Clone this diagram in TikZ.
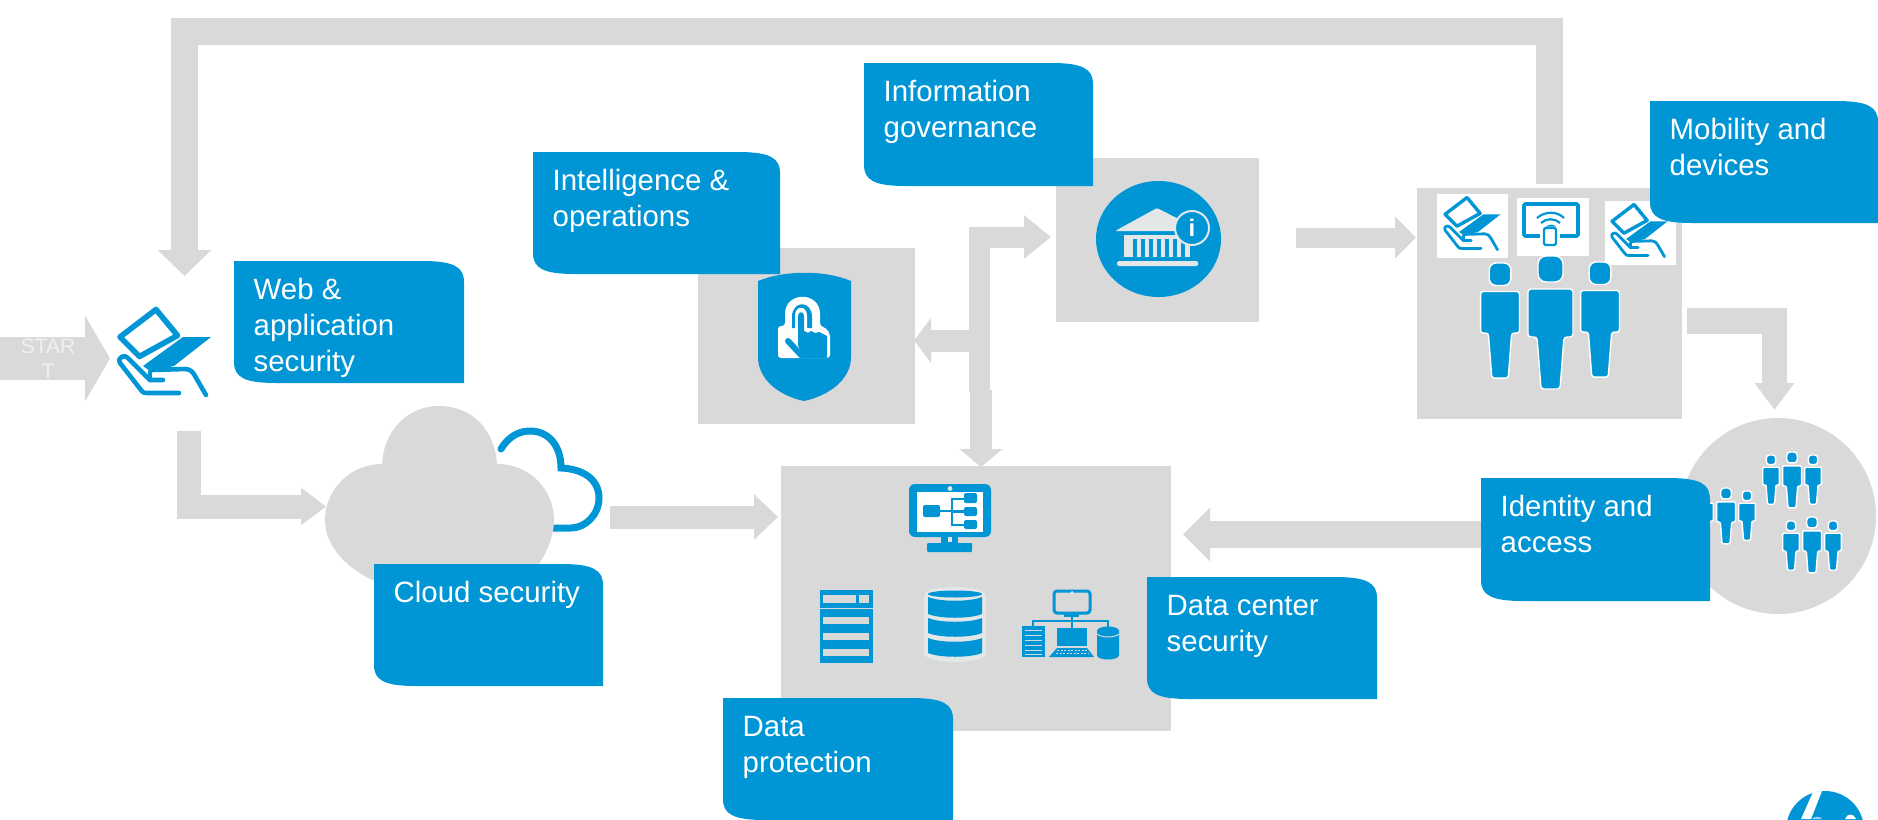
\documentclass[tikz,border=0pt]{standalone}
\usepackage{fontspec}
\setmainfont{Liberation Sans}
\usetikzlibrary{arrows.meta}
\definecolor{hpblue}{HTML}{0096D6}
\definecolor{hpgrey}{HTML}{D9D9D9}
\definecolor{hppale}{HTML}{E4E7E8}
\tikzset{
  greybox/.style={fill=hpgrey,inner sep=0pt,outer sep=0pt,anchor=north west},
  fat/.style={draw=hpgrey,line cap=butt,miter limit=10},
  boxtext/.style={text=white,inner sep=0pt,anchor=north west,align=left,font=\fontsize{29.4}{36}\selectfont},
  iconline/.style={draw=hpblue,line join=round,line cap=round},
}
\newcommand\bluebox[6]{%
  \fill[hpblue] (#2,#3) -- (#2+#4-42,#3) .. controls (#2+#4-10,#3) and (#2+#4,#3+6) .. (#2+#4,#3+21)
    -- (#2+#4,#3+#5) -- (#2+42,#3+#5) .. controls (#2+10,#3+#5) and (#2,#3+#5-6) .. (#2,#3+#5-21) -- cycle;
  \node[boxtext] (#1) at (#2+19.5,#3+13.5) {\rule{0pt}{25pt}#6};
}
% tablet-in-hand icon: drawn at full size from (115,307), placed at #1,#2 with scale #3
\newcommand\tablethand[3]{%
  \begin{scope}[shift={(#1,#2)},scale=#3,shift={(-115,-307)}]
    \draw[iconline,line width={5.6pt*#3}] (156,309.5) -- (120,337) -- (139.5,356.5) -- (177.5,335.5) -- cycle;
    \fill[hpblue] (183,337) -- (211,337) -- (174,366) -- (150,371) -- (143,366) -- cycle;
    \draw[iconline,line width={4.6pt*#3}] (163,380) -- (150,380) -- (128,358) .. controls (125,354) and (117,357) .. (120,363) -- (141,390) .. controls (143,393) and (145,393) .. (147,393) -- (179,393);
    \draw[iconline,line width={4.6pt*#3}] (150,372) -- (150,380);
    \draw[iconline,line width={4.6pt*#3}] (152,370) -- (185,369) .. controls (190,369) and (193,372) .. (195,376) -- (206,395);
  \end{scope}
}
% person: centre x #1, top y #2, scale #3
\newcommand\person[3]{%
  \begin{scope}[shift={(#1,#2)},scale=#3]
    \filldraw[fill=hpblue,draw=white,line width=1.4pt,rounded corners={8pt*#3}] (-12.5,0) rectangle (12.5,26);
    \filldraw[fill=hpblue,draw=white,line width=1.4pt,rounded corners={3pt*#3}]
      (-22.5,33) -- (22.5,33) -- (22.5,81) -- (13.5,81) -- (9.5,133) -- (-9.5,133) -- (-13.5,81) -- (-22.5,81) -- cycle;
  \end{scope}
}
\newcommand\dbseg[2]{\fill[hpblue] (928,#1) .. controls (940,#1+5) and (970,#1+5) .. (982,#1) -- (982,#2) .. controls (970,#2+5) and (940,#2+5) .. (928,#2) -- cycle;}
\begin{document}
\begin{tikzpicture}[x=1pt,y=-1pt]
\useasboundingbox (0,0) rectangle (1878,819);
% grey shapes
\node[greybox,minimum width=217pt,minimum height=176pt] (intelbox) at (698,248) {};
\node[greybox,minimum width=203pt,minimum height=164pt] (infobox) at (1056,158) {};
\node[greybox,minimum width=390pt,minimum height=265pt] (databox) at (781,466) {};
\node[greybox,minimum width=265pt,minimum height=231pt] (mobbox) at (1417,188) {};
\node[circle,fill=hpgrey,inner sep=0pt,minimum size=196pt] (idcircle) at (1778,516) {};
% connector end points
\coordinate (loopA) at (1549.5,184);
\coordinate (loopB) at (1549.5,31.5);
\coordinate (loopC) at (184.5,31.5);
\coordinate (webIn) at (184.5,276);
\coordinate (startA) at (0,358.5);
\coordinate (startB) at (110,358.5);
\coordinate (webOut) at (188.5,431);
\coordinate (webBend) at (188.5,506.5);
\coordinate (cloudIn) at (326,506.5);
\coordinate (cloudOut) at (610,517);
\coordinate (dataIn) at (778,517);
\coordinate (stemLow) at (981,390);
\coordinate (dataTop) at (981,467);
\coordinate (stemBase) at (979.5,392);
\coordinate (stemBend) at (979.5,237);
\coordinate (infoIn) at (1051,237);
\coordinate (stemSplit) at (979.5,340.5);
\coordinate (intelIn) at (914,340.5);
\coordinate (infoOut) at (1296,237.5);
\coordinate (mobIn) at (1416,237.5);
\coordinate (mobOut) at (1687,321);
\coordinate (mobBend) at (1774.5,321);
\coordinate (idIn) at (1774.5,410);
\coordinate (idOut) at (1481,534.5);
\coordinate (dataRight) at (1183,534.5);
% cloud
\draw[hpblue,line width=7pt,line cap=round,line join=miter]
  (501,449) .. controls (510,434) and (522,431) .. (530,431) .. controls (548,431) and (561,445) .. (561,468)
  .. controls (584,469) and (599,480) .. (599,498) .. controls (599,515) and (585,528) .. (571,528) -- (553,528);
\fill[hpgrey] (382,464) .. controls (384,430) and (408,406) .. (439,406) .. controls (472,406) and (495,430) .. (497,464)
  .. controls (530,464) and (554,490) .. (554,520) .. controls (554,540) and (543,560) .. (533,572)
  -- (372,580) .. controls (352,570) and (325,550) .. (325,520) .. controls (325,490) and (350,464) .. (382,464) -- cycle;
% connectors
\draw[fat,line width=26.5pt,-{Triangle[length=26pt,width=52pt]}] (loopA) -- (loopB) -- (loopC) -- (webIn);
\draw[fat,line width=43pt,-{Triangle[length=25pt,width=85pt]}] (startA) -- (startB);
\draw[fat,line width=24pt,-{Triangle[length=25pt,width=36pt]}] (webOut) -- (webBend) -- (cloudIn);
\draw[fat,line width=23pt,-{Triangle[length=24pt,width=44pt]}] (cloudOut) -- (dataIn);
\draw[fat,line width=21pt,-{Triangle[length=27pt,width=42pt]}] (stemBase) -- (stemBend) -- (infoIn);
\draw[fat,line width=22pt,-{Triangle[length=17pt,width=44pt]}] (stemSplit) -- (intelIn);
\draw[fat,line width=22pt,-{Triangle[length=18pt,width=42pt]}] (stemLow) -- (dataTop);
\draw[fat,line width=20pt,-{Triangle[length=21pt,width=41pt]}] (infoOut) -- (mobIn);
\draw[fat,line width=25.5pt,-{Triangle[length=27pt,width=38pt]}] (mobOut) -- (mobBend) -- (idIn);
\draw[fat,line width=27pt,-{Triangle[length=27pt,width=52pt]}] (idOut) -- (dataRight);
\node[text=white!94!black,inner sep=0pt,align=center,font=\fontsize{21}{25}\selectfont,anchor=north] (starttext) at (48,332.5) {\rule{0pt}{21pt}STAR\\T};
% tablet icons
\tablethand{115}{307}{1}
% mobility squares and icons
\fill[white] (1437,194) rectangle (1508,258);
\fill[white] (1517,198) rectangle (1589,256);
\fill[white] (1605,201) rectangle (1676,265);
\tablethand{1442}{196}{0.61}
\tablethand{1609}{203}{0.61}
\draw[hpblue,line width=3.6pt,rounded corners=1.5pt] (1524,204) rectangle (1578,236);
\fill[white] (1540,226) rectangle (1560,240);
\draw[hpblue,line width=2.2pt,rounded corners=1.5pt,fill=white] (1544,228) rectangle (1556,245);
\draw[hpblue,line width=2.2pt] (1537,218) .. controls (1545,211) and (1557,211) .. (1564,218);
\draw[hpblue,line width=2.2pt] (1541,223) .. controls (1546,218) and (1555,218) .. (1560,223);
\fill[hpblue] (1546,226.5) .. controls (1549,224) and (1553,224) .. (1556,226.5) -- cycle;
\person{1500}{263}{0.865}
\person{1550.5}{256}{1}
\person{1600}{262}{0.865}
% identity people
\person{1771}{455}{0.37}\person{1792}{452}{0.42}\person{1813}{455}{0.37}
\person{1791}{521}{0.37}\person{1812}{517}{0.42}\person{1833}{521}{0.37}
\person{1705}{491}{0.37}\person{1726}{488}{0.42}\person{1747}{491}{0.37}
% shield
\fill[hpblue] (758,281) .. controls (785,270) and (825,270) .. (851,281) -- (851,357)
  .. controls (851,380) and (828,396) .. (804,401) .. controls (780,396) and (758,380) .. (758,357) -- cycle;
\fill[white,rounded corners=3pt] (778,326) -- (785,326) -- (785,317) .. controls (785,291) and (820,291) .. (820,317) -- (820,326)
  -- (826,328) -- (830,334) -- (830,358) -- (778,358) -- cycle;
\fill[hpblue] (792,328) -- (792,317) .. controls (792,300) and (812,300) .. (812,317) -- (812,328) -- cycle;
\fill[white] (795,330) -- (795,316) .. controls (795,305) and (807,305) .. (807,316) -- (807,330) -- cycle;
\fill[hpblue] (798,345) -- (798,316) .. controls (798,311) and (804,311) .. (804,316) -- (804,331) -- (808,333) -- (811,331) -- (815,333) -- (819,332) -- (827,336) -- (827,358) -- (803,358) -- cycle;
\draw[hpblue,line width=6pt,line cap=round] (788,341) -- (802,356);
% bank icon
\fill[hpblue] (1158.5,239) ellipse[x radius=62.5pt,y radius=58pt];
\fill[hppale,rounded corners=1.5pt] (1157,208) -- (1202,231) -- (1115,231) -- cycle;
\fill[hppale] (1124,235) rectangle (1190,257);
\foreach \sx in {1133,1141,...,1181}{\fill[hpblue] (\sx,239) rectangle (\sx+3.8,257);}
\fill[hppale,rounded corners=1.5pt] (1117,261) rectangle (1198,266);
\filldraw[fill=hpblue,draw=hppale,line width=2pt] (1192,228) circle[radius=17pt];
\node[text=white,inner sep=0pt,font=\fontsize{24}{24}\selectfont\bfseries] (infoi) at (1192,228) {i};
% monitor icon
\fill[hpblue,rounded corners=6pt] (909,484) rectangle (991,537);
\fill[white] (917,492) rectangle (983,532);
\fill[hppale] (950,488.5) circle[radius=2.4pt];
\fill[hpblue] (941,537) rectangle (958,544);
\fill[hppale] (948,537) rectangle (952,542);
\fill[hpblue,rounded corners=1pt] (927,543) rectangle (972,552);
\fill[hpblue,rounded corners=2pt] (923,505) rectangle (940,517);
\draw[hpblue,line width=2.4pt] (940,511) -- (952,511);
\draw[hpblue,line width=2.4pt] (965,499) -- (952,499) -- (952,525) -- (965,525) (952,511.5) -- (965,511.5);
\fill[hpblue,rounded corners=2pt] (964,493) rectangle (977,503);
\fill[hpblue,rounded corners=2pt] (964,507) rectangle (977,516);
\fill[hpblue,rounded corners=2pt] (964,520) rectangle (977,529);
% list icon
\fill[hpblue] (820,590) rectangle (873,663);
\fill[hpgrey] (823,595) rectangle (856,603);
\fill[hpgrey] (859,595) rectangle (869,603);
\fill[hpgrey] (820,607.5) rectangle (873,609);
\fill[hpgrey] (823,617) rectangle (869,624);
\fill[hpgrey] (823,633) rectangle (869,640);
\fill[hpgrey] (823,649) rectangle (869,656);
% database icon
\fill[hppale] (924,596) .. controls (924,584) and (986,584) .. (986,596) -- (986,653) .. controls (986,665) and (924,665) .. (924,653) -- cycle;
\fill[hpblue] (955,594) ellipse[x radius=27pt,y radius=3.5pt];
\dbseg{597}{614}
\dbseg{618}{633}
\dbseg{638}{653}
% workstation icon
\draw[hpblue,line width=3pt,rounded corners=3pt] (1054,591) rectangle (1090,613);
\fill[hpblue] (1064,614) rectangle (1079,617);
\fill[hppale] (1072,592.5) circle[radius=1.5pt];
\draw[hpblue,line width=1.6pt] (1072,617) -- (1072,628) (1033,626) -- (1033,621) -- (1108,621) -- (1108,627);
\fill[hpblue] (1022,626) rectangle (1045,657);
\foreach \ly in {630,635,640,645,650,654}{\draw[hpgrey,line width=1pt] (1025,\ly) -- (1042,\ly);}
\fill[hpblue] (1057,628) rectangle (1087,646);
\fill[hpblue] (1057,648) -- (1087,648) -- (1094,657) -- (1049,657) -- cycle;
\draw[hpgrey,line width=1pt,dash pattern=on 2pt off 1.5pt] (1057,650.5) -- (1087,650.5) (1056,653) -- (1088,653);
\fill[hpblue] (1097,631) .. controls (1097,625) and (1119,625) .. (1119,631) -- (1119,655) .. controls (1119,661) and (1097,661) .. (1097,655) -- cycle;
\draw[hpgrey,line width=1pt] (1097,634) .. controls (1102,638) and (1114,638) .. (1119,634);
% blue label boxes
\bluebox{weblabel}{234}{261}{230}{122}{Web \&\\application\\security}
\bluebox{intellabel}{533}{152}{247}{122}{Intelligence \&\\operations}
\bluebox{infolabel}{864}{63}{229}{123}{Information\\governance}
\bluebox{moblabel}{1650}{101}{228}{122}{Mobility and\\devices}
\bluebox{cloudlabel}{374}{564}{229}{122}{Cloud security}
\bluebox{idlabel}{1481}{478}{229}{123}{Identity and\\access}
\bluebox{dclabel}{1147}{577}{230}{122}{Data center\\security}
\bluebox{dplabel}{723}{698}{230}{122}{Data\\protection}
% logo
\fill[hpblue] (1825,830) circle[radius=39pt];
\fill[white] (1813,792) -- (1822,791) -- (1811,819) -- (1801,819) -- cycle;
\fill[white!60!hpblue] (1812,819) .. controls (1814,816) and (1820,816) .. (1822,819) -- cycle;
\fill[white] (1845,819) .. controls (1847,813) and (1854,813) .. (1856,819) -- cycle;
\end{tikzpicture}
\end{document}
